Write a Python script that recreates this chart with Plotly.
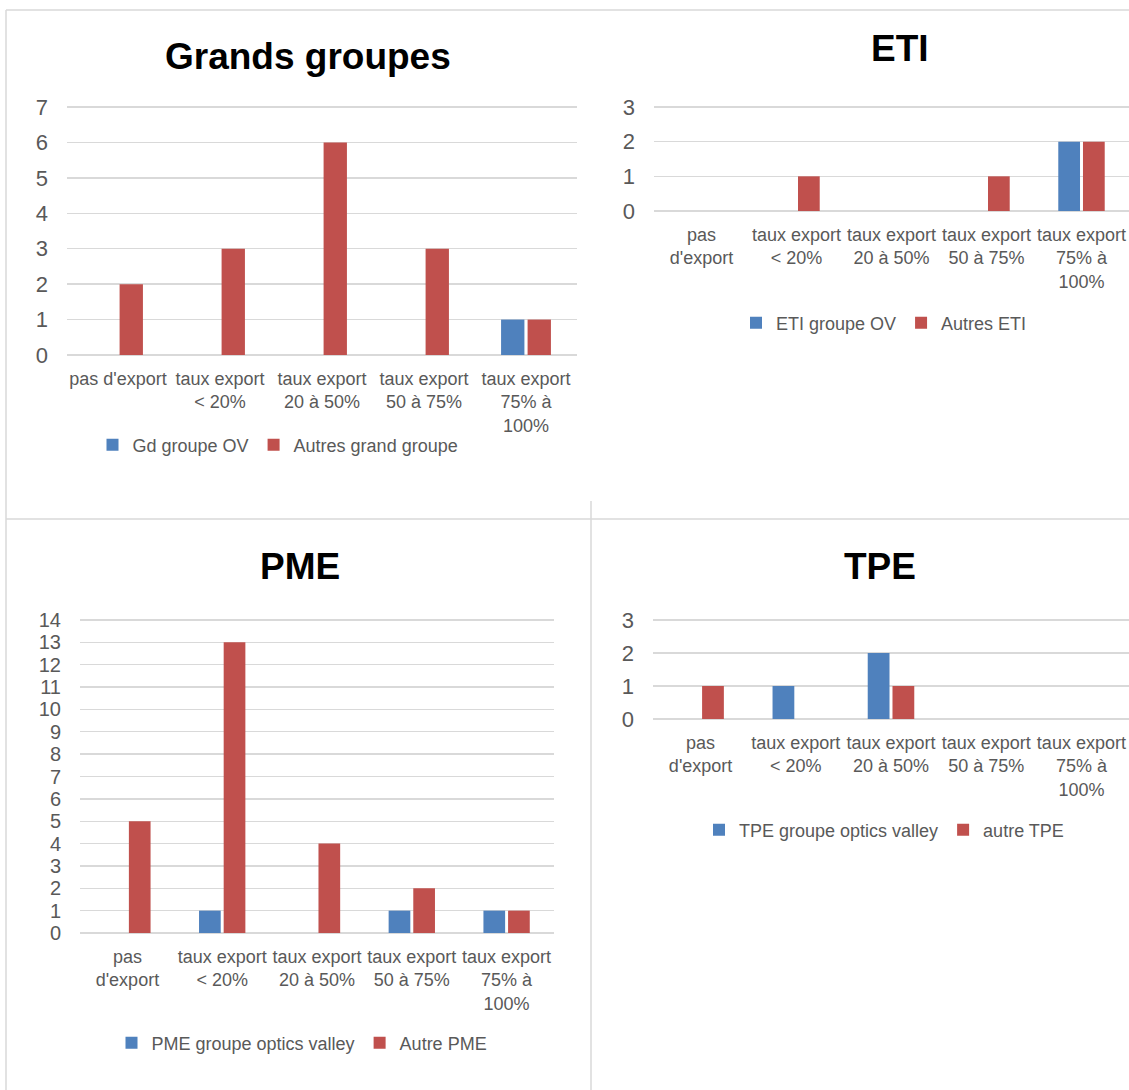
import plotly.graph_objects as go

W, H = 1129, 1090

# ---- data ----
categories_gg = ["pas d'export", "taux export<br>&lt; 20%", "taux export<br>20 à 50%",
                 "taux export<br>50 à 75%", "taux export<br>75% à<br>100%"]
categories = ["pas<br>d'export", "taux export<br>&lt; 20%", "taux export<br>20 à 50%",
              "taux export<br>50 à 75%", "taux export<br>75% à<br>100%"]

gg_ov = [0, 0, 0, 0, 1]
gg_autres = [2, 3, 6, 3, 1]
eti_ov = [0, 0, 0, 0, 2]
eti_autres = [0, 1, 0, 1, 2]
pme_ov = [0, 1, 0, 1, 1]
pme_autres = [5, 13, 4, 2, 1]
tpe_ov = [0, 1, 2, 0, 0]
tpe_autres = [1, 0, 1, 0, 0]

titles = ["Grands groupes", "ETI", "PME", "TPE"]
names_ov = ["Gd groupe OV", "ETI groupe OV", "PME groupe optics valley", "TPE groupe optics valley"]
names_autres = ["Autres grand groupe", "Autres ETI", "Autre PME", "autre TPE"]
y_max = [7, 3, 14, 3]

BLUE = "#4F81BD"
RED = "#C0504D"
GRID = "#D9D9D9"
TXT = "#595959"
FONT = "Liberation Sans, Arial, sans-serif"


def px_x(x):
    return x / W


def px_y(y):
    return 1 - y / H


# plot areas in pixels: (x0, x1, y of top gridline, y of zero line)
areas = [(67, 577, 107, 355), (654, 1129, 107, 211), (80, 554, 620, 933), (653, 1129, 620, 719)]
title_pos = [(308, 57), (900, 48), (300, 566), (880, 567)]
legend_pos = [(278, 445), (884, 323), (302, 1043), (884, 830)]
ytick_size = [22, 22, 20, 22]
PAD_TOP = 3  # pixels of plot area above the top gridline so it stays visible

series = [(categories_gg, gg_ov, gg_autres), (categories, eti_ov, eti_autres),
          (categories, pme_ov, pme_autres), (categories, tpe_ov, tpe_autres)]

fig = go.Figure()
layout = {}
annotations = []
for i in range(4):
    k = "" if i == 0 else str(i + 1)
    cats, ov, autres = series[i]
    leg = "legend" if i == 0 else "legend" + str(i + 1)
    fig.add_trace(go.Bar(x=cats, y=ov, name=names_ov[i], marker=dict(color=BLUE, line_width=0),
                         xaxis="x" + k, yaxis="y" + k, legend=leg))
    fig.add_trace(go.Bar(x=cats, y=autres, name=names_autres[i], marker=dict(color=RED, line_width=0),
                         xaxis="x" + k, yaxis="y" + k, legend=leg))
    x0, x1, yt, yb = areas[i]
    ppu = (yb - yt) / y_max[i]
    layout["xaxis" + k] = dict(domain=[px_x(x0), min(1.0, px_x(x1))], anchor="y" + k,
                               type="category", tickangle=0, showgrid=False, showline=False,
                               ticks="", ticklabelstandoff=11, automargin=False,
                               tickfont=dict(family=FONT, size=18, color=TXT), fixedrange=True)
    layout["yaxis" + k] = dict(domain=[px_y(yb), px_y(yt - PAD_TOP)], anchor="x" + k,
                               range=[0, y_max[i] + PAD_TOP / ppu], automargin=False,
                               dtick=1, tick0=0, showgrid=True, gridcolor=GRID, gridwidth=1.3,
                               zeroline=True, zerolinecolor=GRID, zerolinewidth=1.3,
                               showline=False, ticks="", ticklabelstandoff=18,
                               tickfont=dict(family=FONT, size=ytick_size[i], color=TXT),
                               fixedrange=True)
    lx, ly = legend_pos[i]
    layout[leg] = dict(orientation="h", x=px_x(lx), y=px_y(ly), xanchor="center", yanchor="middle",
                       font=dict(family=FONT, size=18, color=TXT), bgcolor="rgba(0,0,0,0)",
                       itemwidth=30, tracegroupgap=0)
    tx, ty = title_pos[i]
    annotations.append(dict(text="<b>" + titles[i] + "</b>", x=px_x(tx), y=px_y(ty), xref="paper",
                            yref="paper", xanchor="center", yanchor="middle", showarrow=False,
                            font=dict(family=FONT, size=37, color="#000000")))

# sheet/chart frame lines
line_style = dict(color=GRID, width=1.5)
shapes = [
    dict(type="line", xref="paper", yref="paper", x0=px_x(6), x1=1, y0=px_y(10), y1=px_y(10), line=line_style),
    dict(type="line", xref="paper", yref="paper", x0=px_x(6), x1=px_x(6), y0=px_y(10), y1=0, line=line_style),
    dict(type="line", xref="paper", yref="paper", x0=px_x(6), x1=1, y0=px_y(519), y1=px_y(519), line=line_style),
    dict(type="line", xref="paper", yref="paper", x0=px_x(591), x1=px_x(591), y0=px_y(501), y1=0, line=line_style),
]

fig.update_layout(
    width=W, height=H, autosize=False,
    margin=dict(l=0, r=0, t=0, b=0, pad=0, autoexpand=False),
    paper_bgcolor="white", plot_bgcolor="white",
    barmode="group", bargap=0.48, bargroupgap=0.12,
    font=dict(family=FONT, color=TXT),
    annotations=annotations, shapes=shapes,
    **layout,
)

fig.write_html("out.html", config={"displayModeBar": False, "staticPlot": True})

# pin the figure to the window's top-left corner with no page margins or scrolling
with open("out.html", "r", encoding="utf-8") as f:
    html = f.read()
css = ("<style>html,body{margin:0;padding:0;overflow:hidden;width:1129px;height:1090px;}"
       ".plotly-graph-div{position:absolute !important;top:0;left:0;}</style>")
html = html.replace("<head>", "<head>" + css, 1)
with open("out.html", "w", encoding="utf-8") as f:
    f.write(html)
